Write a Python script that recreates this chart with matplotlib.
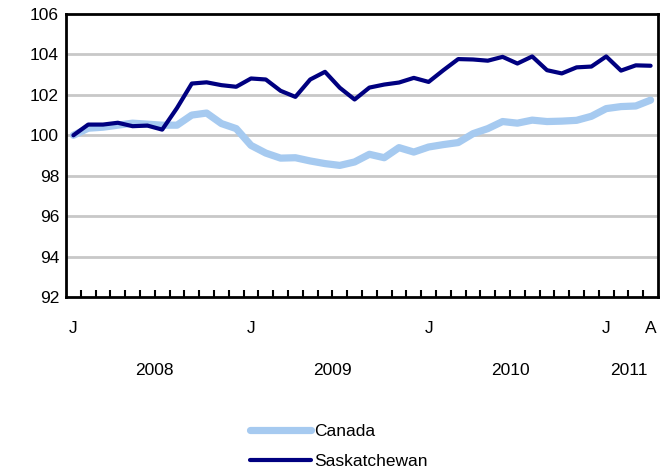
import matplotlib.pyplot as plt
from matplotlib.transforms import blended_transform_factory

plt.rcParams["font.family"] = ["Liberation Sans", "DejaVu Sans"]

# monthly index, Jan 2008 = 100, through Apr 2011
months = list(range(40))
canada = [
    100.0, 100.35, 100.4, 100.5, 100.6, 100.55, 100.5, 100.5, 101.0, 101.1,
    100.58, 100.33, 99.5, 99.12, 98.87, 98.89, 98.73, 98.6, 98.51, 98.68,
    99.06, 98.89, 99.39, 99.17, 99.42, 99.54, 99.64, 100.08, 100.33, 100.68,
    100.6, 100.75, 100.68, 100.7, 100.74, 100.94, 101.32, 101.42, 101.45, 101.74,
]
saskatchewan = [
    100.0, 100.53, 100.53, 100.62, 100.45, 100.48, 100.28, 101.35, 102.56, 102.62,
    102.48, 102.4, 102.81, 102.76, 102.2, 101.9, 102.76, 103.14, 102.35, 101.77,
    102.36, 102.51, 102.61, 102.84, 102.64, 103.22, 103.77, 103.75, 103.69, 103.88,
    103.55, 103.9, 103.22, 103.06, 103.36, 103.4, 103.9, 103.2, 103.46, 103.44,
]
month_labels = {0: "J", 12: "J", 24: "J", 36: "J", 39: "A"}
year_labels = {5.5: "2008", 17.5: "2009", 29.5: "2010", 37.5: "2011"}
y_ticks = [92, 94, 96, 98, 100, 102, 104, 106]

FS = 12.5

fig = plt.figure(figsize=(6.69, 4.72), dpi=100)
ax = fig.add_axes([66 / 669, 175 / 472, 592 / 669, 283 / 472])

ax.plot(months, canada, color="#a6caf0", lw=5.2, solid_capstyle="round",
        solid_joinstyle="round", label="Canada", zorder=3)
ax.plot(months, saskatchewan, color="#000080", lw=3.0, solid_capstyle="round",
        solid_joinstyle="round", label="Saskatchewan", zorder=4)

ax.set_xlim(-0.5, 39.5)
ax.set_ylim(92, 106)
ax.set_yticks(y_ticks)
ax.set_yticklabels([str(v) for v in y_ticks], fontsize=FS)
for v in y_ticks[1:-1]:
    ax.axhline(v, color="#c8c8c8", lw=2, zorder=1)

for side in ax.spines.values():
    side.set_color("black")
    side.set_linewidth(2)

ax.tick_params(axis="y", length=0, pad=5)
ax.set_xticks([m + 0.5 for m in months[:-1]])
ax.set_xticklabels([])
ax.tick_params(axis="x", direction="in", length=5, width=1.5, color="black")

trans = blended_transform_factory(ax.transData, ax.transAxes)
for m, lab in month_labels.items():
    ax.text(m, -0.112, lab, transform=trans, ha="center", va="center", fontsize=FS)
for m, lab in year_labels.items():
    ax.text(m, -0.258, lab, transform=trans, ha="center", va="center", fontsize=FS)

fig.legend(loc="upper left", bbox_to_anchor=(250 / 669, 1 - 424 / 472),
           frameon=False, fontsize=FS, handlelength=3.5, handletextpad=0.2,
           labelspacing=0.85, borderpad=0, borderaxespad=0)

fig.savefig("out.png", dpi=100)
